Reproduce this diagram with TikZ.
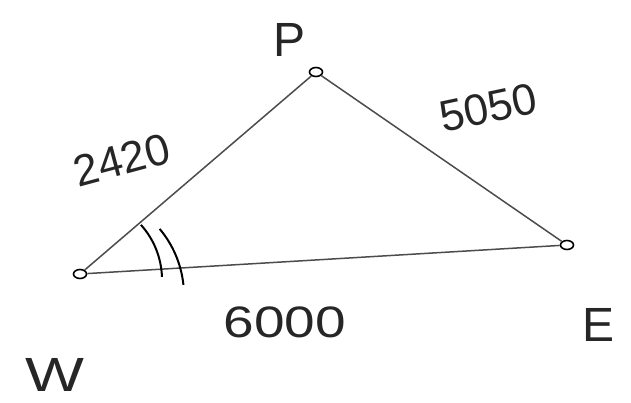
\documentclass[tikz,border=0pt]{standalone}
\usepackage{fontspec}
\setmainfont{Liberation Sans}
\usetikzlibrary{shapes.geometric}
\begin{document}
\begin{tikzpicture}[x=1pt,y=-1pt,
  pt/.style={draw,ellipse,minimum width=13pt,minimum height=9pt,inner sep=0pt,line width=1.6pt},
  seg/.style={line width=1.5pt,black!70},
  lbl/.style={font=\fontsize{48}{48}\selectfont,text=black!85},
  num/.style={font=\fontsize{44}{44}\selectfont,text=black!85}]
\useasboundingbox (0,0) rectangle (631,402);
\node[pt] (W) at (80,274) {};
\node[pt] (P) at (316,72) {};
\node[pt] (E) at (567,245) {};
\draw[seg] (W) -- (P);
\draw[seg] (P) -- (E);
\draw[seg] (W) -- (E);
\draw[line width=2pt] (80,274) ++(2:82) arc[start angle=-2,end angle=-42,radius=82];
\draw[line width=2pt] (80,274) ++(6:104) arc[start angle=-6,end angle=-40,radius=104];
\node[lbl] (lP) at (290,40) {P};
\node[lbl,xscale=1.3] (lW) at (55,375) {W};
\node[lbl] (lE) at (598,325) {E};
\node[num,rotate=15] (l1) at (122,160) {2420};
\node[num,rotate=12] (l2) at (488,108) {5050};
\node[num,xscale=1.25] (l3) at (285,322) {6000};
\end{tikzpicture}
\end{document}
